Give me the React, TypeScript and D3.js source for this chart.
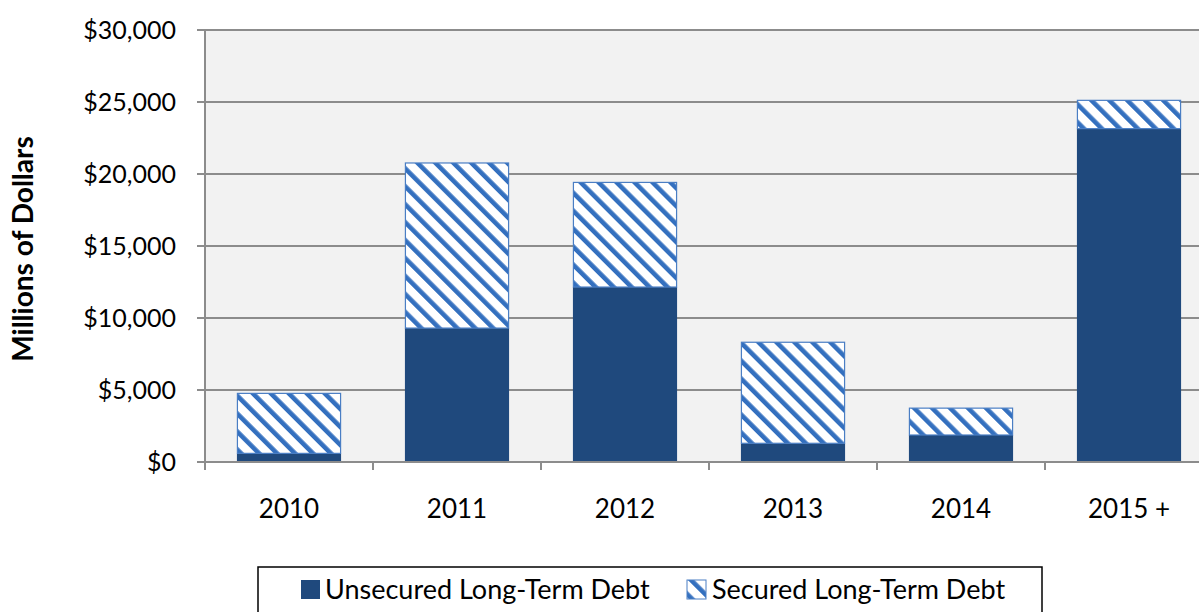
import { useEffect, useRef } from 'react';
import * as d3 from 'd3';

const years = ['2010', '2011', '2012', '2013', '2014', '2015 +'];
const unsecured = [600, 9300, 12150, 1300, 1875, 23150];
const secured = [4200, 11500, 7300, 7050, 1900, 2000];
const yTicks = [0, 5000, 10000, 15000, 20000, 25000, 30000];

const FONT = 'Lato, "Open Sans", sans-serif';

export default function App() {
  const svgRef = useRef<SVGSVGElement>(null);

  useEffect(() => {
    if (!svgRef.current) return;
    const width = 1199;
    const height = 612;
    const margin = { top: 30, left: 205, bottom: 150 };
    const plotRight = margin.left + 168 * years.length;

    const root = d3.select(svgRef.current);
    root.selectAll('*').remove();
    root.attr('width', width).attr('height', height);

    // hatch pattern for secured debt
    const defs = root.append('defs');
    const pat = defs
      .append('pattern')
      .attr('id', 'hatch')
      .attr('patternUnits', 'userSpaceOnUse')
      .attr('width', 12.7)
      .attr('height', 12.7)
      .attr('patternTransform', 'rotate(-45)');
    pat.append('rect').attr('width', 12.7).attr('height', 12.7).attr('fill', '#ffffff');
    pat.append('rect').attr('width', 4.6).attr('height', 12.7).attr('fill', '#3470bf');

    const x = d3
      .scaleBand()
      .domain(years)
      .range([margin.left, plotRight])
      .paddingInner(0.38)
      .paddingOuter(0.19);

    const y = d3
      .scaleLinear()
      .domain([0, 30000])
      .range([height - margin.bottom, margin.top]);

    // plot background
    root
      .append('rect')
      .attr('x', margin.left)
      .attr('y', margin.top)
      .attr('width', plotRight - margin.left)
      .attr('height', y(0) - margin.top)
      .attr('fill', '#f2f2f2');

    // gridlines + y tick marks
    root
      .selectAll('.grid')
      .data(yTicks)
      .enter()
      .append('line')
      .attr('x1', margin.left - 8)
      .attr('x2', plotRight)
      .attr('y1', (d) => y(d))
      .attr('y2', (d) => y(d))
      .attr('stroke', '#8c8c8c')
      .attr('stroke-width', 2);

    root
      .selectAll('.ylab')
      .data(yTicks)
      .enter()
      .append('text')
      .attr('x', 176)
      .attr('y', (d) => y(d) + 9)
      .attr('text-anchor', 'end')
      .attr('font-family', FONT)
      .attr('font-size', 25)
      .attr('fill', '#000')
      .text((d) => `$${d3.format(',')(d)}`);

    // y axis line
    root
      .append('line')
      .attr('x1', margin.left)
      .attr('x2', margin.left)
      .attr('y1', margin.top)
      .attr('y2', y(0))
      .attr('stroke', '#8c8c8c')
      .attr('stroke-width', 2);

    // x tick marks at category boundaries
    const bounds = d3.range(years.length + 1).map((i) => margin.left + i * x.step());
    root
      .selectAll('.xtick')
      .data(bounds)
      .enter()
      .append('line')
      .attr('x1', (d) => d)
      .attr('x2', (d) => d)
      .attr('y1', y(0))
      .attr('y2', y(0) + 8)
      .attr('stroke', '#8c8c8c')
      .attr('stroke-width', 2);

    // bars
    const g = root.append('g');
    g.selectAll('.unsec')
      .data(years)
      .enter()
      .append('rect')
      .attr('x', (d) => x(d) || 0)
      .attr('width', x.bandwidth())
      .attr('y', (_, i) => y(unsecured[i]))
      .attr('height', (_, i) => y(0) - y(unsecured[i]))
      .attr('fill', '#1f497d');

    g.selectAll('.sec')
      .data(years)
      .enter()
      .append('rect')
      .attr('x', (d) => (x(d) || 0) + 0.5)
      .attr('width', x.bandwidth() - 1)
      .attr('y', (_, i) => y(unsecured[i] + secured[i]) + 0.5)
      .attr('height', (_, i) => y(unsecured[i]) - y(unsecured[i] + secured[i]) - 0.5)
      .attr('fill', 'url(#hatch)')
      .attr('stroke', '#4a7ec4')
      .attr('stroke-width', 1.2);

    // x axis line on top of bars
    root
      .append('line')
      .attr('x1', margin.left)
      .attr('x2', plotRight)
      .attr('y1', y(0))
      .attr('y2', y(0))
      .attr('stroke', '#8c8c8c')
      .attr('stroke-width', 2);

    // x labels
    root
      .selectAll('.xlab')
      .data(years)
      .enter()
      .append('text')
      .attr('x', (d) => (x(d) || 0) + x.bandwidth() / 2)
      .attr('y', 518)
      .attr('text-anchor', 'middle')
      .attr('font-family', FONT)
      .attr('font-size', 26)
      .attr('fill', '#000')
      .text((d) => d);

    // y title
    root
      .append('text')
      .attr('transform', 'translate(33,249) rotate(-90)')
      .attr('text-anchor', 'middle')
      .attr('font-family', FONT)
      .attr('font-weight', 'bold')
      .attr('font-size', 28)
      .attr('fill', '#000')
      .text('Millions of Dollars');

    // legend
    const lg = root.append('g');
    lg.append('rect')
      .attr('x', 258)
      .attr('y', 567)
      .attr('width', 784)
      .attr('height', 60)
      .attr('fill', '#fff')
      .attr('stroke', '#000')
      .attr('stroke-width', 1.5);

    const legendItems = [
      { label: 'Unsecured Long-Term Debt', fill: '#1f497d', sx: 301, tx: 325 },
      { label: 'Secured Long-Term Debt', fill: 'url(#hatch)', sx: 687, tx: 712 },
    ];
    legendItems.forEach((it) => {
      lg.append('rect')
        .attr('x', it.sx)
        .attr('y', 580)
        .attr('width', 19)
        .attr('height', 19)
        .attr('fill', it.fill)
        .attr('stroke', it.fill === '#1f497d' ? 'none' : '#4a7ec4')
        .attr('stroke-width', 1);
      lg.append('text')
        .attr('x', it.tx)
        .attr('y', 599)
        .attr('font-family', FONT)
        .attr('font-size', 27)
        .attr('fill', '#000')
        .text(it.label);
    });
  }, []);

  return (
    <svg
      ref={svgRef}
      style={{ position: 'absolute', left: 0, top: 0, display: 'block' }}
    />
  );
}
